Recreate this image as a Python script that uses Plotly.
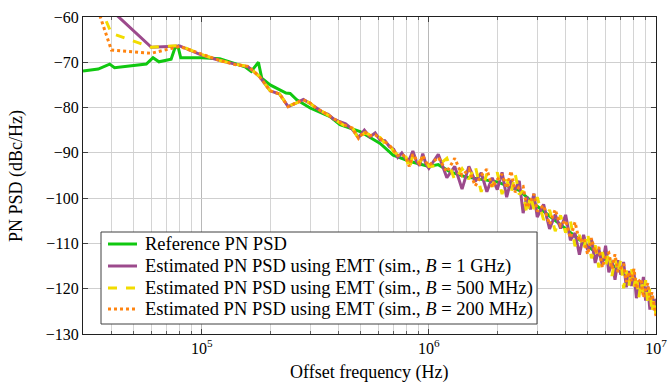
import plotly.graph_objects as go

# ---------------- data ----------------
ref_freq = [3.0e4, 3.5e4, 3.93e4, 4.13e4, 5.7e4, 6.1e4, 6.48e4, 7.33e4, 7.61e4, 7.86e4, 8.08e4,
            1.0e5, 1.2e5, 1.4e5, 1.55e5, 1.65e5, 1.72e5, 1.776e5, 1.837e5, 2.0e5, 2.35e5, 2.45e5,
            2.62e5, 3.0e5, 3.67e5, 4.06e5, 4.98e5, 6.1e5, 6.96e5, 8.28e5, 1.0e6, 1.1e6, 1.24e6,
            1.45e6, 2.0e6, 2.5e6, 3.0e6, 4.0e6, 5.0e6, 6.0e6, 7.0e6, 8.0e6, 9.0e6, 1.0e7]
ref_psd = [-71.9, -71.5, -70.4, -71.2, -70.4, -69.0, -69.9, -69.3, -66.9, -66.5, -69.0,
           -69.0, -69.2, -70.3, -71.0, -72.0, -71.0, -70.0, -73.5, -75.0, -76.8, -76.9,
           -78.3, -80.1, -82.0, -83.8, -85.3, -87.9, -90.5, -91.9, -93.0, -92.6, -94.2,
           -95.3, -96.4, -98.3, -101.8, -106.8, -110.6, -113.6, -116.1, -118.4, -120.6, -123.2]

est_freq = [2e4, 4e4, 6e4, 8e4, 1.0e5, 1.2e5, 1.4e5, 1.6e5, 1.8e5, 2.0e5,
            2.2e5, 2.4e5, 2.6e5, 2.8e5, 3.0e5, 3.2e5, 3.4e5, 3.6e5, 3.8e5, 4.0e5,
            4.3e5, 4.6e5, 4.9e5, 5.2e5, 5.5e5, 5.8e5, 6.1e5, 6.4e5, 6.7e5, 7.0e5,
            7.3e5, 7.6e5, 7.9e5, 8.2e5, 8.5e5, 8.8e5, 9.1e5, 9.4e5, 9.7e5, 1.0e6,
            1.1e6, 1.2e6, 1.3e6, 1.4e6, 1.5e6, 1.6e6, 1.7e6, 1.8e6, 1.9e6, 2.0e6,
            2.1e6, 2.2e6, 2.3e6, 2.4e6, 2.5e6, 2.6e6, 2.7e6, 2.8e6, 2.9e6, 3.0e6,
            3.2e6, 3.4e6, 3.6e6, 3.8e6, 4.0e6, 4.2e6, 4.4e6, 4.6e6, 4.8e6, 5.0e6,
            5.2e6, 5.4e6, 5.6e6, 5.8e6, 6.0e6, 6.2e6, 6.4e6, 6.6e6, 6.8e6, 7.0e6,
            7.2e6, 7.4e6, 7.6e6, 7.8e6, 8.0e6, 8.2e6, 8.4e6, 8.6e6, 8.8e6, 9.0e6,
            9.2e6, 9.4e6, 9.6e6, 9.8e6, 1.0e7]

est_1ghz = [-40.0, -58.5, -66.7, -66.4, -68.4, -69.6, -70.4, -71.0, -73.2, -76.3,
            -77.0, -79.8, -79.0, -78.2, -79.1, -80.1, -81.0, -81.5, -82.5, -83.0,
            -83.6, -84.8, -86.6, -85.0, -86.5, -85.6, -87.2, -87.3, -88.6, -89.2,
            -91.0, -90.0, -91.3, -91.5, -89.6, -91.8, -92.8, -90.2, -92.4, -93.4,
            -90.3, -95.5, -93.0, -98.0, -93.0, -96.3, -94.4, -98.6, -95.5, -98.1,
            -94.3, -99.8, -96.0, -98.1, -96.2, -103.3, -99.7, -102.5, -99.0, -104.2,
            -101.4, -106.8, -103.6, -106.7, -103.7, -109.3, -107.7, -112.5, -108.1, -111.5,
            -109.1, -114.3, -111.2, -114.8, -110.5, -116.4, -113.8, -118.0, -113.7, -116.9,
            -114.1, -119.7, -116.1, -119.4, -116.4, -122.1, -118.3, -120.9, -117.4, -122.6,
            -119.5, -124.6, -121.6, -124.7, -122.2]

est_500mhz = [-28.0, -63.6, -66.7, -66.3, -68.3, -69.6, -70.4, -70.9, -73.2, -76.3,
              -77.0, -79.7, -79.0, -78.3, -79.0, -80.3, -80.9, -81.7, -82.4, -83.2,
              -84.2, -84.4, -87.0, -85.6, -86.0, -86.2, -86.6, -87.9, -88.0, -89.8,
              -90.4, -90.7, -90.6, -93.6, -90.5, -91.2, -92.2, -90.8, -91.8, -93.0,
              -92.8, -91.2, -96.0, -93.5, -95.8, -92.9, -98.6, -94.6, -97.5, -94.3,
              -99.1, -95.9, -98.8, -94.7, -99.2, -98.4, -103.5, -99.5, -102.4, -99.8,
              -104.8, -102.6, -107.3, -103.8, -107.6, -105.0, -110.6, -108.1, -111.3, -107.7,
              -113.3, -110.4, -115.3, -111.9, -114.9, -111.9, -117.2, -113.4, -116.5, -113.5,
              -119.9, -116.0, -119.3, -115.6, -119.6, -116.9, -122.0, -118.5, -121.2, -118.1,
              -123.3, -120.0, -125.3, -122.2, -126.0]

est_200mhz = [-22.0, -67.3, -68.0, -66.5, -68.2, -69.6, -70.5, -70.9, -73.2, -76.3,
              -77.0, -79.8, -79.0, -78.3, -79.0, -80.2, -80.9, -81.6, -82.4, -83.1,
              -84.0, -84.5, -86.8, -85.3, -86.2, -86.0, -86.8, -87.6, -88.3, -89.5,
              -90.6, -90.3, -90.9, -93.0, -90.3, -91.5, -92.4, -90.6, -92.0, -92.8,
              -91.0, -94.2, -91.2, -95.0, -93.6, -97.3, -95.0, -93.6, -97.6, -95.9,
              -94.7, -97.8, -94.0, -98.7, -97.5, -97.4, -102.1, -100.7, -99.1, -102.9,
              -101.6, -105.8, -102.5, -106.1, -104.9, -108.8, -105.3, -109.6, -108.8, -112.4,
              -108.8, -112.1, -110.8, -115.3, -112.7, -112.1, -115.6, -112.4, -116.3, -115.4,
              -114.5, -118.5, -116.3, -118.3, -115.6, -120.0, -118.4, -117.8, -122.0, -120.1,
              -118.8, -122.4, -120.8, -123.5, -126.0]

x_tick_vals = [1e5, 1e6, 1e7]
x_tick_text = ["10<sup>5</sup>", "10<sup>6</sup>", "10<sup>7</sup>"]
x_minor_vals = [4e4, 5e4, 6e4, 7e4, 8e4, 9e4,
                2e5, 3e5, 4e5, 5e5, 6e5, 7e5, 8e5, 9e5,
                2e6, 3e6, 4e6, 5e6, 6e6, 7e6, 8e6, 9e6]

names = ["Reference PN PSD",
         "Estimated PN PSD using EMT (sim., <i>B</i> = 1 GHz)",
         "Estimated PN PSD using EMT (sim., <i>B</i> = 500 MHz)",
         "Estimated PN PSD using EMT (sim., <i>B</i> = 200 MHz)"]
x_title = "Offset frequency (Hz)"
y_title = "PN PSD (dBc/Hz)"

# ---------------- styles ----------------
FONT = "Liberation Serif"
colors = ["#10c810", "#9c4a8c", "#f2dc00", "#ff8410"]
dashes = ["solid", "solid", "dash", "dot"]

# plot area in pixels (for placing the legend box)
L, R, T, B = 83, 656, 17, 334
def px_x(p):
    return (p - L) / (R - L)
def px_y(p):
    return (B - p) / (B - T)

fig = go.Figure()
series = [(ref_freq, ref_psd), (est_freq, est_1ghz), (est_freq, est_500mhz), (est_freq, est_200mhz)]
for (xs, ys), nm, c, d in zip(series, names, colors, dashes):
    fig.add_trace(go.Scatter(x=xs, y=ys, mode="lines", name=nm, showlegend=False,
                             line=dict(color=c, width=3, dash=d)))

# legend drawn as box + samples + text
shapes = [dict(type="rect", xref="paper", yref="paper",
               x0=px_x(101), x1=px_x(537), y0=px_y(324), y1=px_y(232),
               fillcolor="white", line=dict(color="#404040", width=1), layer="above")]
annotations = []
row_y = [244, 266, 288, 309]
for nm, c, d, ry in zip(names, colors, dashes, row_y):
    shapes.append(dict(type="line", xref="paper", yref="paper",
                       x0=px_x(108), x1=px_x(137), y0=px_y(ry), y1=px_y(ry),
                       line=dict(color=c, width=3, dash=d), layer="above"))
    annotations.append(dict(text=nm, xref="paper", yref="paper", x=px_x(143), y=px_y(ry),
                            xanchor="left", yanchor="middle", showarrow=False,
                            font=dict(family=FONT, size=18.5, color="black")))

annotations.append(dict(text=x_title, xref="paper", yref="paper", x=0.5, y=px_y(373),
                        xanchor="center", yanchor="middle", showarrow=False,
                        font=dict(family=FONT, size=18)))
annotations.append(dict(text=y_title, xref="paper", yref="paper", x=px_x(16), y=px_y(176),
                        xanchor="center", yanchor="middle", showarrow=False, textangle=-90,
                        font=dict(family=FONT, size=18)))

fig.update_layout(
    width=668, height=386,
    margin=dict(l=L, r=668 - R, t=T, b=386 - B),
    paper_bgcolor="white", plot_bgcolor="white",
    font=dict(family=FONT, size=16, color="black"),
    showlegend=False,
    xaxis=dict(type="log", range=[4.4771, 7.0], automargin=False,
               tickmode="array", tickvals=x_tick_vals, ticktext=x_tick_text,
               ticks="inside", ticklen=5, tickcolor="#404040",
               showline=True, linecolor="#202020", linewidth=1, mirror="allticks",
               showgrid=True, gridcolor="#b8b8b8", gridwidth=1, zeroline=False,
               minor=dict(tickmode="array", tickvals=x_minor_vals, ticks="inside",
                          ticklen=3, tickcolor="#606060",
                          showgrid=True, gridcolor="#d4d4d4", gridwidth=1),
               tickfont=dict(size=16)),
    yaxis=dict(range=[-130, -60], tickmode="linear", tick0=-130, dtick=10, automargin=False,
               ticks="inside", ticklen=5, tickcolor="#404040",
               showline=True, linecolor="#202020", linewidth=1, mirror="allticks",
               showgrid=True, gridcolor="#cfcfcf", gridwidth=1, zeroline=False,
               tickfont=dict(size=16)),
    shapes=shapes,
    annotations=annotations,
)

fig.write_html("out.html", config={"displayModeBar": False},
               post_script="document.body.style.margin='0';document.body.style.padding='0';")
